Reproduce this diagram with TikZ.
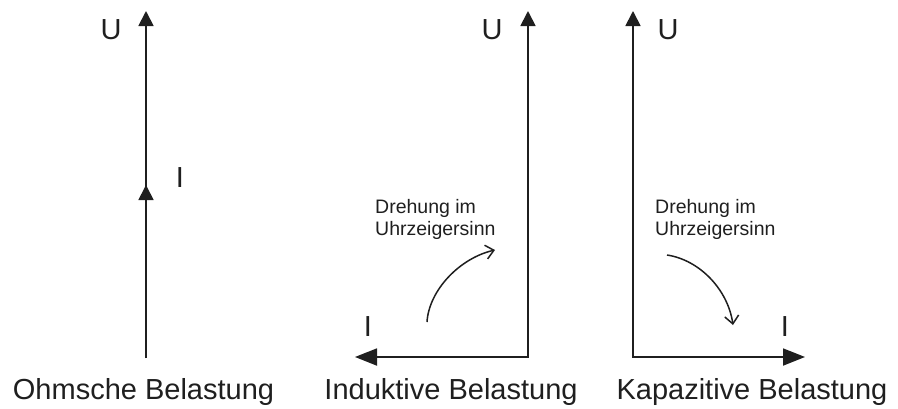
\documentclass[tikz,border=0pt]{standalone}
\usepackage{fontspec}
\setmainfont{Liberation Sans}
\usetikzlibrary{positioning,arrows.meta}

\begin{document}
\begin{tikzpicture}[
    x=1pt, y=-1pt,
    axis/.style={line width=1.8pt, draw=black!88},
    vtip/.style={-{Triangle[length=15pt,width=15pt]}},
    bothtips/.style={{Triangle[length=15pt,width=15pt]}-{Triangle[length=22pt,width=17pt]}},
    turn/.style={-{Straight Barb[length=8pt,width=14pt]}, line width=1.5pt, draw=black!88},
    big/.style={font=\fontsize{29}{34}\selectfont, inner sep=0pt, text=black!88},
    small/.style={font=\fontsize{19.5}{22}\selectfont, inner sep=0pt, align=left, text=black!88},
    caption/.style={big, anchor=base}
]
\useasboundingbox (0,0) rectangle (898,408);

% Ohmsche Belastung: U and I in phase
\coordinate (o0) at (146,358);
\coordinate (oI) at (146,185);
\coordinate (oU) at (146,11);
\draw[axis,vtip] (o0) -- (oU);
\draw[axis,vtip] (o0) -- (oI);
\node[big] (oUlab) at (111,30) {U};
\node[big] (oIlab) at (180,178) {I};
\node[caption] (ohm) at (143.5,399) {Ohmsche Belastung};

% Induktive Belastung
\coordinate (i0) at (528,357);
\coordinate (iU) at (528,11);
\coordinate (iI) at (355,357);
\draw[axis,bothtips] (iU) -- (i0) -- (iI);
\node[big] (iUlab) at (492,30) {U};
\node[big] (iIlab) at (368,327) {I};
\node[small, anchor=north west] (idreh) at (375,199) {Drehung im\\Uhrzeigersinn};
\coordinate (iA) at (427,322);
\coordinate (iB) at (495,250);
\draw[turn] (iA) .. controls (429,290) and (460,258) .. (iB);
\node[caption] (ind) at (451,399) {Induktive Belastung};

% Kapazitive Belastung
\coordinate (k0) at (633,357);
\coordinate (kU) at (633,11);
\coordinate (kI) at (805,357);
\draw[axis,bothtips] (kU) -- (k0) -- (kI);
\node[big] (kUlab) at (668,30) {U};
\node[big] (kIlab) at (785,327) {I};
\node[small, anchor=north west] (kdreh) at (655,199) {Drehung im\\Uhrzeigersinn};
\coordinate (kA) at (667,255);
\coordinate (kB) at (733,325);
\draw[turn] (kA) .. controls (700,260) and (728,290) .. (kB);
\node[caption] (kap) at (752,399) {Kapazitive Belastung};

\end{tikzpicture}
\end{document}
